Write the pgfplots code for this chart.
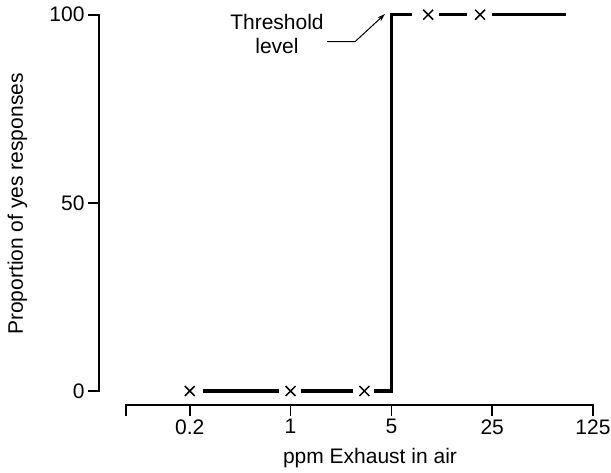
\documentclass[border=0pt]{standalone}
\usepackage{pgfplots}
\pgfplotsset{compat=1.18}
\usepackage{fontspec}
\setmainfont{Liberation Sans}
\usetikzlibrary{arrows.meta}
\begin{document}
\begin{tikzpicture}[font=\fontsize{21}{25}\selectfont]
\path[use as bounding box] (0pt,0pt) rectangle (611pt,-472pt);
\begin{axis}[
  at={(126pt,-391pt)}, anchor=south west,
  scale only axis, width=467pt, height=376.3pt,
  xmode=log,
  xmin=0.0723, xmax=125, ymin=0, ymax=100,
  axis x line*=bottom, axis y line*=left,
  axis x line shift=14pt, axis y line shift=27pt,
  axis line style={-, line width=1.6pt, line cap=rect},
  xtick={0.0723,0.2,1,5,25,125},
  xticklabels={,0.2,1,5,25,125},
  ytick={0,50,100},
  yticklabels={0,50,100},
  tick align=outside,
  major tick length=11pt,
  tick style={line width=1.6pt, black},
  tick label style={font=\fontsize{21}{25}\selectfont},
  clip=false,
]
\addplot[black, line width=3.3pt, line join=miter] coordinates {(0.246,0) (0.826,0)};
\addplot[black, line width=3.3pt, line join=miter] coordinates {(1.173,0) (2.73,0)};
\addplot[black, line width=3.3pt, line join=miter] coordinates {(3.76,0) (5,0) (5,100) (6.99,100)};
\addplot[black, line width=3.3pt, line join=miter] coordinates {(10.7,100) (16.8,100)};
\addplot[black, line width=3.3pt, line join=miter] coordinates {(25,100) (81,100)};
\addplot[only marks, mark=x, mark size=7pt, mark options={line width=1.5pt, black}] coordinates {(0.2,0) (1,0) (3.25,0) (9.0,100) (20.6,100)};
\end{axis}
\node[rotate=90, anchor=base] at (23pt,-204pt) {Proportion of yes responses};
\node[anchor=base] at (370pt,-463pt) {ppm Exhaust in air};
\node[anchor=base] at (277pt,-29pt) {Threshold};
\node[anchor=base] at (277pt,-53pt) {level};
\draw[line width=1pt, -{Stealth[length=8pt,width=5pt]}] (327pt,-41.7pt) -- (355pt,-41.7pt) -- (385pt,-14pt);
\end{tikzpicture}
\end{document}
